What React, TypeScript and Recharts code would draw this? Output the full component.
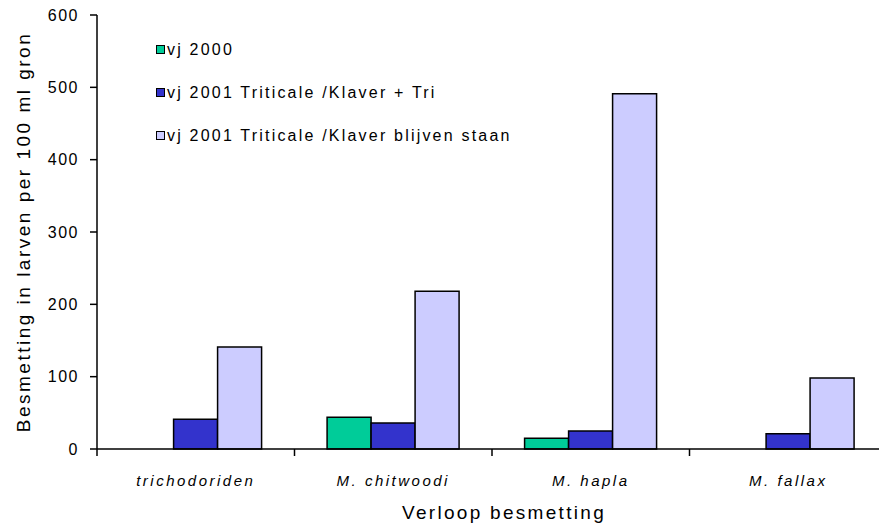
import React from 'react';
import { BarChart, Bar, XAxis, YAxis } from 'recharts';

const CATEGORIES = ['trichodoriden', 'M. chitwoodi', 'M. hapla', 'M. fallax'];
const VJ_2000 = [null, 44, 15, null];
const VJ_2001_TRI = [41, 36, 25, 21];
const VJ_2001_STAAN = [141, 218, 491, 98];
const Y_TICKS = [0, 100, 200, 300, 400, 500, 600];

const SERIES = [
  { key: 'vj2000', name: 'vj 2000', color: '#00CC99' },
  { key: 'vj2001tri', name: 'vj 2001 Triticale /Klaver + Tri', color: '#3333CC' },
  { key: 'vj2001staan', name: 'vj 2001 Triticale /Klaver blijven staan', color: '#CCCCFF' },
];

const data = CATEGORIES.map((name, i) => ({
  name,
  vj2000: VJ_2000[i],
  vj2001tri: VJ_2001_TRI[i],
  vj2001staan: VJ_2001_STAAN[i],
}));

const FONT = '"Liberation Sans", Arial, sans-serif';
const X_TICK_MARGIN = 26;

// category label plus the tick marks at the category boundaries
const CategoryTick = (props: any) => {
  const { x, y, width, visibleTicksCount, index, payload } = props;
  const band = width / visibleTicksCount;
  const axisY = y - X_TICK_MARGIN;
  const left = x - band / 2;
  const right = x + band / 2;
  return (
    <g>
      <line x1={left} x2={left} y1={axisY} y2={axisY + 7} stroke="#000" strokeWidth={1.5} />
      {index === visibleTicksCount - 1 && (
        <line x1={right} x2={right} y1={axisY} y2={axisY + 7} stroke="#000" strokeWidth={1.5} />
      )}
      <text
        x={x}
        y={y + 11}
        textAnchor="middle"
        fontFamily={FONT}
        fontSize={15}
        fontStyle="italic"
        letterSpacing={2.5}
        fill="#000"
      >
        {payload.value}
      </text>
    </g>
  );
};

const LegendBox = () => (
  <div
    style={{
      position: 'absolute',
      left: 156,
      top: 28,
      fontFamily: FONT,
      fontSize: 16,
      letterSpacing: 2.2,
      color: '#000',
    }}
  >
    {SERIES.map((s) => (
      <div key={s.key} style={{ display: 'flex', alignItems: 'center', height: 43 }}>
        <span
          style={{
            width: 7,
            height: 7,
            background: s.color,
            border: '1px solid #000',
            marginRight: 2,
            display: 'inline-block',
          }}
        />
        <span>{s.name}</span>
      </div>
    ))}
  </div>
);

export default function App() {
  return (
    <div
      style={{
        position: 'fixed',
        left: 0,
        top: 0,
        width: 879,
        height: 528,
        overflow: 'hidden',
        background: '#fff',
      }}
    >
      <BarChart
        width={900}
        height={528}
        data={data}
        margin={{ top: 15, right: 13, left: 0, bottom: 34 }}
        barCategoryGap="16.5%"
        barGap={0}
      >
        <XAxis
          dataKey="name"
          height={45}
          axisLine={{ stroke: '#000', strokeWidth: 1.5 }}
          tickLine={false}
          tickSize={0}
          tickMargin={X_TICK_MARGIN}
          interval={0}
          tick={<CategoryTick />}
          label={{
            content: (props: any) => {
              const vb = props.viewBox;
              return (
                <text
                  x={vb.x + vb.width / 2 + 12}
                  y={vb.y + 70}
                  textAnchor="middle"
                  fontFamily={FONT}
                  fontSize={19}
                  letterSpacing={2.3}
                  fill="#000"
                >
                  Verloop besmetting
                </text>
              );
            },
          }}
        />
        <YAxis
          width={97}
          domain={[0, 600]}
          ticks={Y_TICKS}
          interval={0}
          tickSize={7}
          tickMargin={11}
          axisLine={{ stroke: '#000', strokeWidth: 1.5 }}
          tickLine={{ stroke: '#000', strokeWidth: 1.5 }}
          tick={{ fill: '#000', fontSize: 16, fontFamily: FONT, letterSpacing: 1.5 }}
          label={{
            content: (props: any) => {
              const vb = props.viewBox;
              const cx = vb.x + 23;
              const cy = vb.y + vb.height / 2;
              return (
                <text
                  transform={`translate(${cx},${cy}) rotate(-90)`}
                  textAnchor="middle"
                  dominantBaseline="central"
                  fontFamily={FONT}
                  fontSize={19}
                  letterSpacing={2.5}
                  fill="#000"
                >
                  Besmetting in larven per 100 ml gron
                </text>
              );
            },
          }}
        />
        {SERIES.map((s) => (
          <Bar
            key={s.key}
            dataKey={s.key}
            name={s.name}
            fill={s.color}
            stroke="#000"
            strokeWidth={1.5}
            isAnimationActive={false}
          />
        ))}
      </BarChart>
      <LegendBox />
    </div>
  );
}
